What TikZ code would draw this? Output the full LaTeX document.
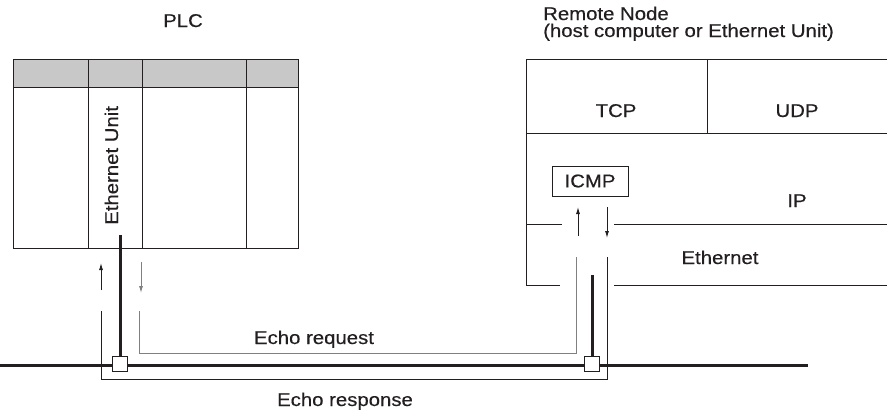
\documentclass[tikz,border=0pt]{standalone}
\usepackage{fontspec}
\setmainfont{Liberation Sans}[FakeStretch=1.1,FakeBold=0.4]
\usetikzlibrary{arrows.meta}
\definecolor{ln}{HTML}{231F20}
\definecolor{hdr}{HTML}{C8C8C8}
\definecolor{req}{HTML}{808080}
\begin{document}
\begin{tikzpicture}[x=1pt,y=-1pt,
  every node/.style={font=\fontsize{18.5}{15}\selectfont, text=ln},
  cell/.style={draw=ln, line width=0.9pt, anchor=north west, inner sep=0pt},
  hcell/.style={cell, fill=hdr},
  lbl/.style={anchor=base, inner sep=0pt},
  thinln/.style={draw=ln, line width=0.9pt},
  reqln/.style={draw=req, line width=0.9pt},
  bus/.style={draw=ln, line width=3pt},
  tap/.style={draw=ln, line width=1pt, fill=white, minimum size=15pt, inner sep=0pt},
  arr/.style={draw=ln, line width=0.9pt, -{Latex[length=7pt,width=4pt]}},
  arrg/.style={draw=req, line width=0.9pt, -{Latex[length=7pt,width=4pt]}},
]
\useasboundingbox (0,0) rectangle (887,413);

% ---------- PLC ----------
\node[lbl] (plc) at (183,27) {PLC};
\node[hcell, minimum width=75pt,  minimum height=28pt] (h1) at (13,59) {};
\node[hcell, minimum width=54pt,  minimum height=28pt] (h2) at (88,59) {};
\node[hcell, minimum width=104pt, minimum height=28pt] (h3) at (142,59) {};
\node[hcell, minimum width=52pt,  minimum height=28pt] (h4) at (246,59) {};
\node[cell, minimum width=75pt,  minimum height=161pt] (b1) at (13,87) {};
\node[cell, minimum width=54pt,  minimum height=161pt] (b2) at (88,87) {};
\node[cell, minimum width=104pt, minimum height=161pt] (b3) at (142,87) {};
\node[cell, minimum width=52pt,  minimum height=161pt] (b4) at (246,87) {};
\node[rotate=90, anchor=base west, inner sep=0pt] (eu) at (118,225) {Ethernet Unit};

% ---------- Remote node ----------
\node[anchor=base west, inner sep=0pt] (rn1) at (543,20) {Remote Node};
\node[anchor=base west, inner sep=0pt] (rn2) at (543,37) {(host computer or Ethernet Unit)};
\draw[thinln] (887,59) -- (526,59) -- (526,285) -- (560,285);
\draw[thinln] (614,285) -- (887,285);
\draw[thinln] (526,133) -- (887,133);
\draw[thinln] (707,59) -- (707,133);
\draw[thinln] (526,224) -- (562,224);
\draw[thinln] (614,224) -- (887,224);
\node[lbl] (tcp) at (616,117) {TCP};
\node[lbl] (udp) at (797,117) {UDP};
\node[lbl] (ip) at (797,207) {IP};
\node[lbl] (eth) at (720,264) {Ethernet};
\node[draw=ln, line width=0.9pt, minimum width=76pt, minimum height=30pt, inner sep=0pt] (icmp) at (590,181) {ICMP};

% ---------- arrows ----------
\draw[arr]  (101,290) -- (101,263);
\draw[arrg] (141,262) -- (141,293);
\draw[arr]  (578,236) -- (578,207);
\draw[arr]  (607,207) -- (607,238);

% ---------- echo paths ----------
\draw[reqln] (139,311) |- (576,353) -- (576,257);
\draw[thinln] (101,311) |- (607,379) -- (607,257);
\node[lbl] (ereq) at (314,344) {Echo request};
\node[lbl] (eresp) at (345,406) {Echo response};

% ---------- bus ----------
\coordinate (busL) at (0,365);
\coordinate (busR) at (808,365);
\draw[bus] (busL) -- (busR);
\node[tap] (sqL) at (120,364) {};
\node[tap] (sqR) at (592,364) {};
\coordinate (euT) at (120,235);
\coordinate (rmT) at (592,275);
\draw[bus] (euT) -- (sqL.north);
\draw[bus] (rmT) -- (sqR.north);
\end{tikzpicture}
\end{document}
